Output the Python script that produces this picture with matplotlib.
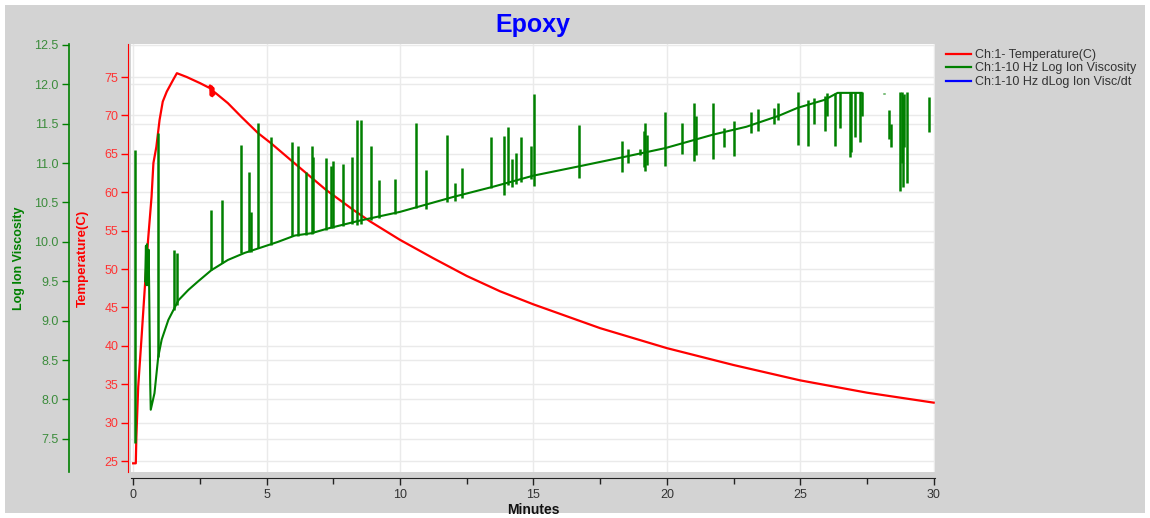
import matplotlib
matplotlib.use("Agg")
import matplotlib.pyplot as plt
from matplotlib.lines import Line2D
from matplotlib.patches import Rectangle
from matplotlib.transforms import blended_transform_factory

plt.rcParams['font.family'] = ['Liberation Sans', 'DejaVu Sans']

# temperature channel (minutes, deg C)
temp_min = [0.0, 0.1, 0.12, 0.19, 0.31, 0.44, 0.56, 0.69, 0.76, 0.87, 0.99, 1.11, 1.26,
            1.51, 1.64, 2.01, 2.51, 2.85, 2.88, 2.91, 2.94, 2.97, 3.0, 3.03, 3.06, 3.55,
            4.06, 4.68, 5.16, 5.97, 7.23, 8.25, 8.88, 10.0, 11.25, 12.5, 13.75, 15.0,
            17.5, 20.0, 22.5, 25.0, 27.5, 30.0]
temp_c = [24.7, 24.7, 28.0, 34.7, 40.8, 47.7, 53.8, 59.4, 63.8, 65.9, 69.4, 71.8, 73.1,
          74.7, 75.5, 75.0, 74.2, 73.6, 73.9, 72.6, 73.8, 72.5, 73.6, 72.7, 73.0, 71.6,
          69.8, 67.7, 66.4, 64.0, 60.3, 57.7, 56.2, 53.8, 51.4, 49.1, 47.1, 45.4,
          42.3, 39.7, 37.5, 35.5, 33.9, 32.6]

# 10 Hz log ion viscosity, underlying trace
visc_min = [0.45, 0.48, 0.5, 0.52, 0.55, 0.58, 0.6, 0.64, 0.66, 0.8, 0.94, 1.07, 1.32,
            1.7, 2.07, 2.44, 2.93, 3.55, 4.18, 4.81, 5.43, 6.06, 6.69, 7.3, 8.5, 10.0,
            12.0, 13.5, 15.0, 16.74, 18.3, 19.95, 21.73, 22.98, 24.2, 24.9, 25.9, 26.4,
            27.3]
visc_log = [9.5, 9.95, 9.45, 9.97, 9.45, 9.9, 9.43, 8.2, 7.87, 8.08, 8.54, 8.76, 9.01,
            9.26, 9.39, 9.5, 9.64, 9.77, 9.86, 9.93, 10.0, 10.08, 10.11, 10.17, 10.27,
            10.38, 10.57, 10.70, 10.84, 10.96, 11.07, 11.19, 11.36, 11.46, 11.6, 11.7,
            11.8, 11.89, 11.89]

# noise spikes on the viscosity channel: time, low end, high end
spike_min = [0.06, 0.94, 1.52, 1.66, 2.93, 3.32, 4.06, 4.35, 4.41, 4.68, 5.16, 5.97,
             6.19, 6.48, 6.69, 6.75, 7.23, 7.42, 7.48, 7.85, 8.19, 8.40, 8.54, 8.91,
             9.23, 9.82, 10.6, 10.97, 11.75, 12.06, 12.31, 13.42, 13.91, 14.06, 14.21,
             14.35, 14.53, 14.91, 15.03, 16.72, 18.33, 18.53, 18.99, 19.15, 19.2, 19.25,
             19.95, 20.56, 21.02, 21.11, 21.73, 22.13, 22.5, 23.16, 23.41, 24.0, 24.16,
             24.92, 25.29, 25.5, 25.94, 26.0, 26.29, 26.5, 26.85, 26.9, 27.05, 27.23,
             27.3, 28.14, 28.33, 28.4, 28.75, 28.8, 28.85, 28.9, 28.99, 29.82]
spike_lo = [7.45, 8.54, 9.14, 9.2, 9.64, 9.73, 9.86, 9.87, 9.87, 9.92, 9.96, 10.07,
            10.08, 10.09, 10.10, 10.11, 10.15, 10.17, 10.17, 10.2, 10.23, 10.22, 10.23,
            10.28, 10.3, 10.35, 10.43, 10.42, 10.5, 10.52, 10.55, 10.68, 10.6, 10.72,
            10.7, 10.74, 10.76, 10.8, 10.71, 10.81, 10.89, 11.0, 11.1, 10.95, 10.9, 10.98,
            10.96, 11.12, 11.02, 11.1, 11.05, 11.2, 11.09, 11.38, 11.4, 11.5, 11.55,
            11.23, 11.21, 11.5, 11.4, 11.6, 11.22, 11.45, 11.08, 11.14, 11.33, 11.27,
            11.6, 11.87, 11.3, 11.2, 10.64, 11.0, 10.7, 11.2, 10.75, 11.39]
spike_hi = [11.17, 11.38, 9.90, 9.86, 10.41, 10.53, 11.23, 10.88, 10.38, 11.51, 11.33,
            11.27, 11.21, 10.89, 11.21, 11.08, 11.07, 10.96, 11.02, 10.99, 11.08, 11.55,
            11.55, 11.22, 10.78, 10.80, 11.51, 10.91, 11.36, 10.75, 10.94, 11.33, 11.34,
            11.46, 11.05, 11.13, 11.33, 11.21, 11.87, 11.48, 11.28, 11.18, 11.18, 11.4,
            11.51, 11.35, 11.65, 11.51, 11.76, 11.6, 11.76, 11.45, 11.53, 11.65, 11.68,
            11.7, 11.76, 11.9, 11.8, 11.82, 11.85, 11.89, 11.89, 11.9, 11.9, 11.9, 11.9,
            11.9, 11.9, 11.89, 11.67, 11.5, 11.9, 11.9, 11.85, 11.88, 11.9, 11.84]

x_ticks = [0, 5, 10, 15, 20, 25, 30]
temp_ticks = [25, 30, 35, 40, 45, 50, 55, 60, 65, 70, 75]
visc_ticks = [7.5, 8.0, 8.5, 9.0, 9.5, 10.0, 10.5, 11.0, 11.5, 12.0, 12.5]

RED = '#ff0000'
GREEN = '#008000'
BLUE = '#0000ff'
GRID = '#eaeaea'
W, H = 1150, 518

fig = plt.figure(figsize=(W / 100, H / 100), dpi=100)
fig.patch.set_facecolor('white')
fig.add_artist(Rectangle((5 / W, 5 / H), 1140 / W, 508 / H, transform=fig.transFigure,
                         facecolor='#d3d3d3', edgecolor='none', zorder=-10))

pos = [131 / W, 1 - 472 / H, (935 - 131) / W, (472 - 44) / H]
ax_t = fig.add_axes(pos)
ax_t.set_facecolor('white')
ax_v = ax_t.twinx()

ax_t.set_xlim(-0.08, 30.05)
ax_t.set_ylim(23.57, 79.3)
ax_v.set_ylim(7.08, 12.51)

# temperature on the lower axes
ax_t.plot(temp_min, temp_c, color=RED, lw=1.6, zorder=3)

# grid: both scales drawn on the bottom axes so the data sits over it
ax_t.set_xticks(x_ticks)
ax_t.set_yticks(temp_ticks)
ax_t.grid(True, color=GRID, lw=1.0, zorder=0)
ax_t.set_axisbelow(True)
vt = blended_transform_factory(ax_t.transAxes, ax_v.transData)
for v in visc_ticks:
    ax_t.plot([0, 1], [v, v], transform=vt, color=GRID, lw=1.0, zorder=0.5)

# viscosity on top
ax_v.plot(visc_min, visc_log, color=GREEN, lw=1.5, zorder=3)
ax_v.vlines(spike_min, spike_lo, spike_hi, color=GREEN, lw=1.8, zorder=3)

# spines and ticks
for s in ['top', 'right']:
    ax_t.spines[s].set_visible(False)
    ax_v.spines[s].set_visible(False)
ax_v.spines['bottom'].set_visible(False)
ax_v.yaxis.set_ticks_position('left')
ax_v.yaxis.set_label_position('left')
ax_v.set_yticks(visc_ticks)
ax_v.set_yticklabels([f'{v:.1f}' for v in visc_ticks])
ax_v.tick_params(axis='y', colors=GREEN, labelcolor='#3c8c3c', length=5, width=1,
                 labelsize=9, pad=2)
ax_v.spines['left'].set_visible(True)
ax_v.spines['left'].set_position(('outward', 45))
ax_v.spines['left'].set_edgecolor(GREEN)
ax_v.spines['left'].set_linewidth(1.2)

ax_t.spines['left'].set_position(('outward', 2))
ax_t.spines['left'].set_edgecolor(RED)
ax_t.spines['bottom'].set_position(('outward', 4))
ax_t.spines['bottom'].set_color('#222222')
ax_t.tick_params(axis='y', colors=RED, labelcolor='#ff3333', length=5, width=1,
                 labelsize=9, pad=2)
ax_t.set_xticks([2.5, 7.5, 12.5, 17.5, 22.5, 27.5], minor=True)
ax_t.tick_params(axis='x', which='both', colors='#222222', labelcolor='#333333',
                 length=5, width=1, labelsize=9, pad=3)
ax_t.tick_params(axis='x', which='minor', length=4)

ax_t.set_ylabel('Temperature(C)', color=RED, fontsize=9.5, fontweight='bold')
ax_t.yaxis.set_label_coords(-42 / 804, 0.5)
ax_v.set_ylabel('Log Ion Viscosity', color=GREEN, fontsize=9, fontweight='bold')
ax_v.yaxis.set_label_coords(-106 / 804, 0.5)
ax_t.set_xlabel('Minutes', fontsize=10, fontweight='bold', color='#111111')
ax_t.xaxis.set_label_coords(0.5, -31 / 428)

fig.text(533 / W, 1 - 25 / H, 'Epoxy', color=BLUE, fontsize=18, fontweight='bold',
         ha='center', va='center')

handles = [Line2D([], [], color=RED, lw=1.6),
           Line2D([], [], color=GREEN, lw=1.6),
           Line2D([], [], color=BLUE, lw=1.6)]
labels = ['Ch:1- Temperature(C)', 'Ch:1-10 Hz Log Ion Viscosity',
          'Ch:1-10 Hz dLog Ion Visc/dt']
fig.legend(handles, labels, loc='upper left', bbox_to_anchor=(941 / W, 1 - 44 / H),
           frameon=False, fontsize=9, handlelength=2.0, handletextpad=0.35,
           labelspacing=0.12, borderaxespad=0, labelcolor='#333333')

fig.savefig('out.png', dpi=100, facecolor=fig.get_facecolor())
